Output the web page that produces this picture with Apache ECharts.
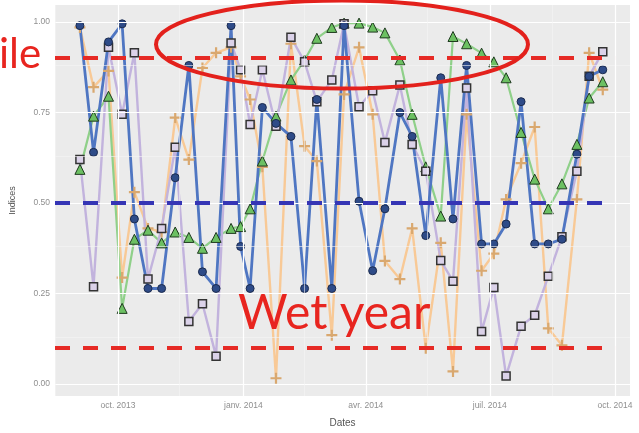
<!DOCTYPE html>
<html>
<head>
<meta charset="utf-8">
<script src="https://cdn.jsdelivr.net/npm/echarts@6/dist/echarts.min.js"></script>
<style>
  html, body { margin: 0; padding: 0; background: #ffffff; }
  #chart { width: 639px; height: 433px; }
</style>
</head>
<body>
<div id="chart"></div>
<script>
// Observation dates (one per ~10-day period)
const dates = [
  '2013-09-03','2013-09-13','2013-09-24','2013-10-04','2013-10-13','2013-10-23',
  '2013-11-02','2013-11-12','2013-11-22','2013-12-02','2013-12-12','2013-12-23',
  '2013-12-30','2014-01-06','2014-01-15','2014-01-25','2014-02-05','2014-02-15',
  '2014-02-24','2014-03-07','2014-03-16','2014-03-27','2014-04-06','2014-04-15',
  '2014-04-26','2014-05-05','2014-05-15','2014-05-26','2014-06-04','2014-06-14',
  '2014-06-25','2014-07-04','2014-07-13','2014-07-24','2014-08-03','2014-08-13',
  '2014-08-23','2014-09-03','2014-09-12','2014-09-22'
];

// Index values per series
const blueIdx = [
  0.99, 0.64, 0.945, 0.995, 0.456, 0.264, 0.264, 0.57, 0.88, 0.31,
  0.264, 0.99, 0.38, 0.264, 0.764, 0.72, 0.684, 0.264, 0.786, 0.264,
  0.99, 0.505, 0.313, 0.484, 0.75, 0.684, 0.41, 0.846, 0.456, 0.88,
  0.387, 0.387, 0.442, 0.78, 0.387, 0.387, 0.40, 0.635, 0.85, 0.868
];
const greenIdx = [
  0.593, 0.74, 0.795, 0.209, 0.40, 0.425, 0.39, 0.42, 0.405, 0.375,
  0.405, 0.43, 0.435, 0.484, 0.616, 0.74, 0.84, 0.895, 0.955, 0.985,
  0.997, 0.997, 0.986, 0.97, 0.895, 0.745, 0.60, 0.464, 0.96, 0.94,
  0.914, 0.89, 0.846, 0.695, 0.566, 0.484, 0.553, 0.662, 0.79, 0.835
];
const purpleIdx = [
  0.62, 0.269, 0.93, 0.745, 0.915, 0.29, 0.43, 0.654, 0.173, 0.222,
  0.077, 0.942, 0.868, 0.717, 0.868, 0.712, 0.958, 0.89, 0.78, 0.84,
  0.995, 0.766, 0.81, 0.667, 0.826, 0.662, 0.588, 0.341, 0.284, 0.818,
  0.145, 0.267, 0.022, 0.16, 0.19, 0.298, 0.407, 0.588, 0.85, 0.918
];
const orangeIdx = [
  0.985, 0.82, 0.865, 0.294, 0.53, 0.43, 0.42, 0.736, 0.62, 0.873,
  0.915, 0.93, 0.85, 0.786, 0.60, 0.016, 0.94, 0.657, 0.616, 0.135,
  0.80, 0.93, 0.745, 0.34, 0.29, 0.43, 0.099, 0.39, 0.035, 0.745,
  0.313, 0.36, 0.51, 0.61, 0.71, 0.154, 0.107, 0.51, 0.915, 0.813
];

// Axis breaks and labels
const yMajor = [0, 0.25, 0.5, 0.75, 1];
const yMajorLabels = ['0.00', '0.25', '0.50', '0.75', '1.00'];
const yMinor = [0.125, 0.375, 0.625, 0.875];
const xMajor = ['2013-10-01', '2014-01-01', '2014-04-01', '2014-07-01', '2014-10-01'];
const xMajorLabels = ['oct. 2013', 'janv. 2014', 'avr. 2014', 'juil. 2014', 'oct. 2014'];
const xMinor = ['2013-08-16', '2013-11-15', '2014-02-15', '2014-05-16', '2014-08-16'];

// Reference levels
const dryLevel = 0.9;
const wetLevel = 0.1;
const midLevel = 0.5;
const refEnd = '2014-10-01';

// x is measured in days from the start of October 2013
const ORIGIN = Date.UTC(2013, 9, 1);
function day(s) {
  const p = s.split('-').map(Number);
  return Math.round((Date.UTC(p[0], p[1] - 1, p[2]) - ORIGIN) / 86400000);
}
function pairs(vals) {
  return dates.map((d, i) => [day(d), vals[i]]);
}

const xMin = -46.3;
const xMax = 376;
const xTickValues = xMajor.map(day);

const plusPath = 'path://M4,0H6V4H10V6H6V10H4V6H0V4H4Z';

const gridLines = [];
yMajor.forEach(v => gridLines.push({ yAxis: v, lineStyle: { color: '#ffffff', width: 1.2, type: 'solid' } }));
yMinor.forEach(v => gridLines.push({ yAxis: v, lineStyle: { color: '#f5f5f5', width: 0.6, type: 'solid' } }));
xMajor.forEach(d => gridLines.push({ xAxis: day(d), lineStyle: { color: '#ffffff', width: 1.2, type: 'solid' } }));
xMinor.forEach(d => gridLines.push({ xAxis: day(d), lineStyle: { color: '#f5f5f5', width: 0.6, type: 'solid' } }));

function refLine(level, color) {
  return [
    { coord: [xMin, level], lineStyle: { color: color, width: 4, type: [15, 13] } },
    { coord: [day(refEnd), level] }
  ];
}

function lineSeries(name, vals, color, width) {
  return {
    name: name, type: 'line', data: pairs(vals), showSymbol: false,
    lineStyle: { color: color, width: width }, z: 3, animation: false, silent: true
  };
}
function pointSeries(name, vals, symbol, size, fill, border, bw) {
  return {
    name: name, type: 'scatter', data: pairs(vals), symbol: symbol, symbolSize: size,
    itemStyle: { color: fill, borderColor: border, borderWidth: bw, opacity: 1 },
    z: 4, animation: false, silent: true
  };
}

const chart = echarts.init(document.getElementById('chart'));
chart.setOption({
  animation: false,
  backgroundColor: '#ffffff',
  grid: {
    left: 55, right: 9, top: 5, bottom: 36,
    show: true, backgroundColor: '#ebebeb', borderWidth: 0
  },
  xAxis: {
    type: 'value', min: xMin, max: xMax,
    name: 'Dates', nameLocation: 'middle', nameGap: 22,
    nameTextStyle: { color: '#555555', fontSize: 10, fontFamily: 'Liberation Sans' },
    axisLine: { show: false },
    axisTick: { show: true, customValues: xTickValues, length: 3, lineStyle: { color: '#8a8a8a' } },
    axisLabel: {
      customValues: xTickValues, margin: 5, color: '#8f8f8f', fontSize: 8.5,
      fontFamily: 'Liberation Sans',
      formatter: function (v) {
        const i = xTickValues.indexOf(Math.round(v));
        return i >= 0 ? xMajorLabels[i] : '';
      }
    },
    splitLine: { show: false }
  },
  yAxis: {
    type: 'value', min: -0.033, max: 1.047,
    name: 'Indices', nameLocation: 'middle', nameGap: 38,
    nameTextStyle: { color: '#555555', fontSize: 9, fontFamily: 'Liberation Sans' },
    axisLine: { show: false },
    axisTick: { show: true, customValues: yMajor, length: 3, lineStyle: { color: '#8a8a8a' } },
    axisLabel: {
      customValues: yMajor, margin: 5, color: '#8f8f8f', fontSize: 8.5,
      fontFamily: 'Liberation Sans',
      formatter: function (v) {
        const i = yMajor.findIndex(t => Math.abs(t - v) < 1e-6);
        return i >= 0 ? yMajorLabels[i] : '';
      }
    },
    splitLine: { show: false }
  },
  series: [
    {
      type: 'line', data: [], z: 1, silent: true, animation: false,
      markLine: { silent: true, symbol: 'none', animation: false, label: { show: false }, data: gridLines }
    },
    lineSeries('orange', orangeIdx, '#f8c996', 2.4),
    lineSeries('green', greenIdx, '#8fd089', 2.2),
    lineSeries('purple', purpleIdx, '#c2b3dd', 2.4),
    lineSeries('blue', blueIdx, '#4f76c2', 2.8),
    pointSeries('orange', orangeIdx, plusPath, 11, '#d9a86f', '#d9a86f', 0),
    pointSeries('green', greenIdx, 'triangle', 10, '#6cc062', '#1f3a1f', 1),
    pointSeries('purple', purpleIdx, 'rect', 8, '#dbd2e9', '#333333', 1.5),
    pointSeries('blue', blueIdx, 'circle', 8, '#2e4b88', '#1b2b4f', 1),
    {
      type: 'line', data: [], z: 6, silent: true, animation: false,
      markLine: {
        silent: true, symbol: 'none', animation: false, label: { show: false },
        data: [refLine(dryLevel, '#e62a25'), refLine(wetLevel, '#e62a25'), refLine(midLevel, '#3535b5')]
      }
    }
  ],
  graphic: [
    {
      type: 'ellipse', z: 100, silent: true,
      shape: { cx: 342, cy: 44.5, rx: 186, ry: 44 },
      style: { fill: null, stroke: '#e3211c', lineWidth: 4 }
    },
    {
      type: 'text', z: 100, silent: true, left: -1, top: 33,
      style: { text: 'ile', fill: '#e8251f', font: 'normal 42px Lato, "Liberation Sans", sans-serif' }
    },
    {
      type: 'text', z: 100, silent: true, left: 238, top: 290,
      style: { text: 'Wet year', fill: '#e8251f', font: 'normal 48px Lato, "Liberation Sans", sans-serif' }
    }
  ]
});
</script>
</body>
</html>
